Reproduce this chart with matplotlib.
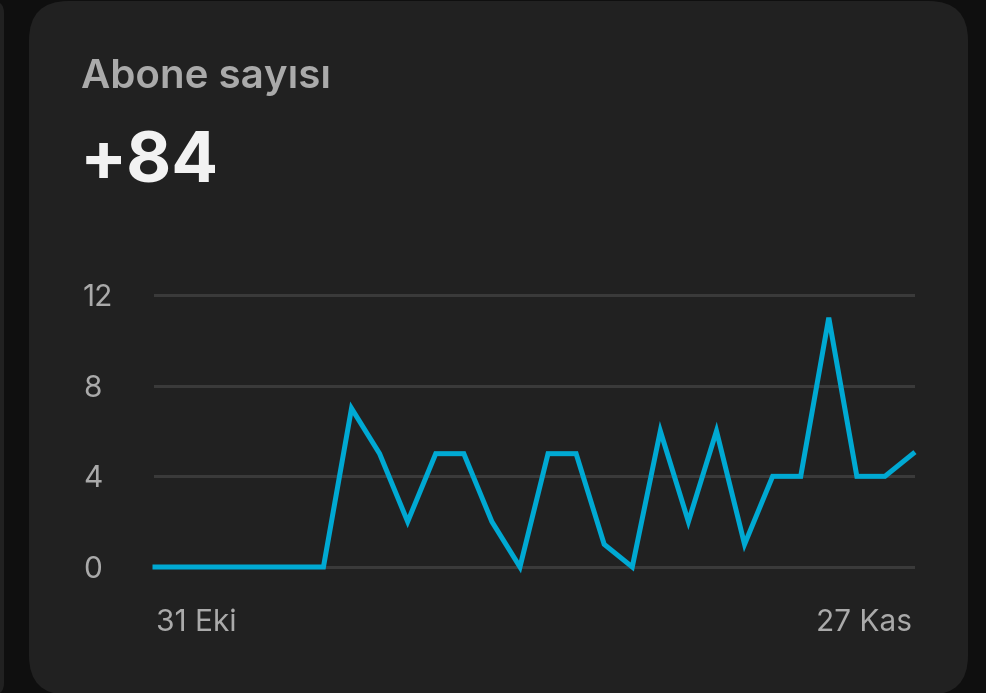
import matplotlib.pyplot as plt
from matplotlib.patches import FancyBboxPatch
import matplotlib.transforms as mtransforms

# daily new subscribers, 31 Eki -> 27 Kas
values = [0, 0, 0, 0, 0, 0, 0, 7, 5, 2, 5, 5, 2, 0, 5, 5, 1, 0,
          6, 2, 6, 1, 4, 4, 11, 4, 4, 5]
days = list(range(len(values)))
yticks = [0, 4, 8, 12]
xlabels = ["31 Eki", "27 Kas"]
title = "Abone sayısı"
total = "+" + str(sum(values))

W, H = 986, 693
plt.rcParams['font.family'] = ['Inter', 'DejaVu Sans']

fig = plt.figure(figsize=(W / 100, H / 100), dpi=100)
fig.patch.set_facecolor("#0f0f0f")

# cards
for x0, w, r in [(29, 939, 0.04), (-60, 64, 0.012)]:
    card = FancyBboxPatch((x0 / W, -2 / H), w / W, 694 / H,
                          boxstyle=f"round,pad=0,rounding_size={r}",
                          transform=fig.transFigure,
                          facecolor="#212121", edgecolor="none",
                          mutation_aspect=W / H, zorder=-5)
    fig.patches.append(card)

fig.text(81 / W, 1 - 78 / H, title, color="#aaaaaa", fontsize=29,
         fontweight="semibold", va="center", ha="left")
fig.text(80 / W, 1 - 164 / H, total, color="#f2f2f2", fontsize=50,
         fontweight="bold", va="center", ha="left")

ax = fig.add_axes([155 / W, 1 - 567 / H, 758 / W, 272 / H])
ax.set_facecolor("none")
ax.set_xlim(days[0], days[-1])
ax.set_ylim(0, 12)
for s in ax.spines.values():
    s.set_visible(False)
ax.set_xticks([])
ax.set_yticks([])

for t in yticks:
    ax.axhline(t, color="#3a3a3a", lw=2.2, zorder=1, clip_on=False)

ax.plot(days, values, color="#00a9d3", lw=3.6, zorder=3, clip_on=False,
        solid_joinstyle="miter")

trans = mtransforms.blended_transform_factory(
    fig.transFigure, ax.transData + mtransforms.ScaledTranslation(0, -0.03, fig.dpi_scale_trans))
for t in yticks:
    ax.text(83 / W, t, str(t), transform=trans, color="#aaaaaa",
            fontsize=21.5, ha="left", va="center")

fig.text(156 / W, 1 - 623 / H, xlabels[0], color="#aaaaaa", fontsize=21.5,
         ha="left", va="center")
fig.text(912 / W, 1 - 623 / H, xlabels[1], color="#aaaaaa", fontsize=21.5,
         ha="right", va="center")

fig.savefig("out.png", dpi=100, facecolor=fig.get_facecolor())
